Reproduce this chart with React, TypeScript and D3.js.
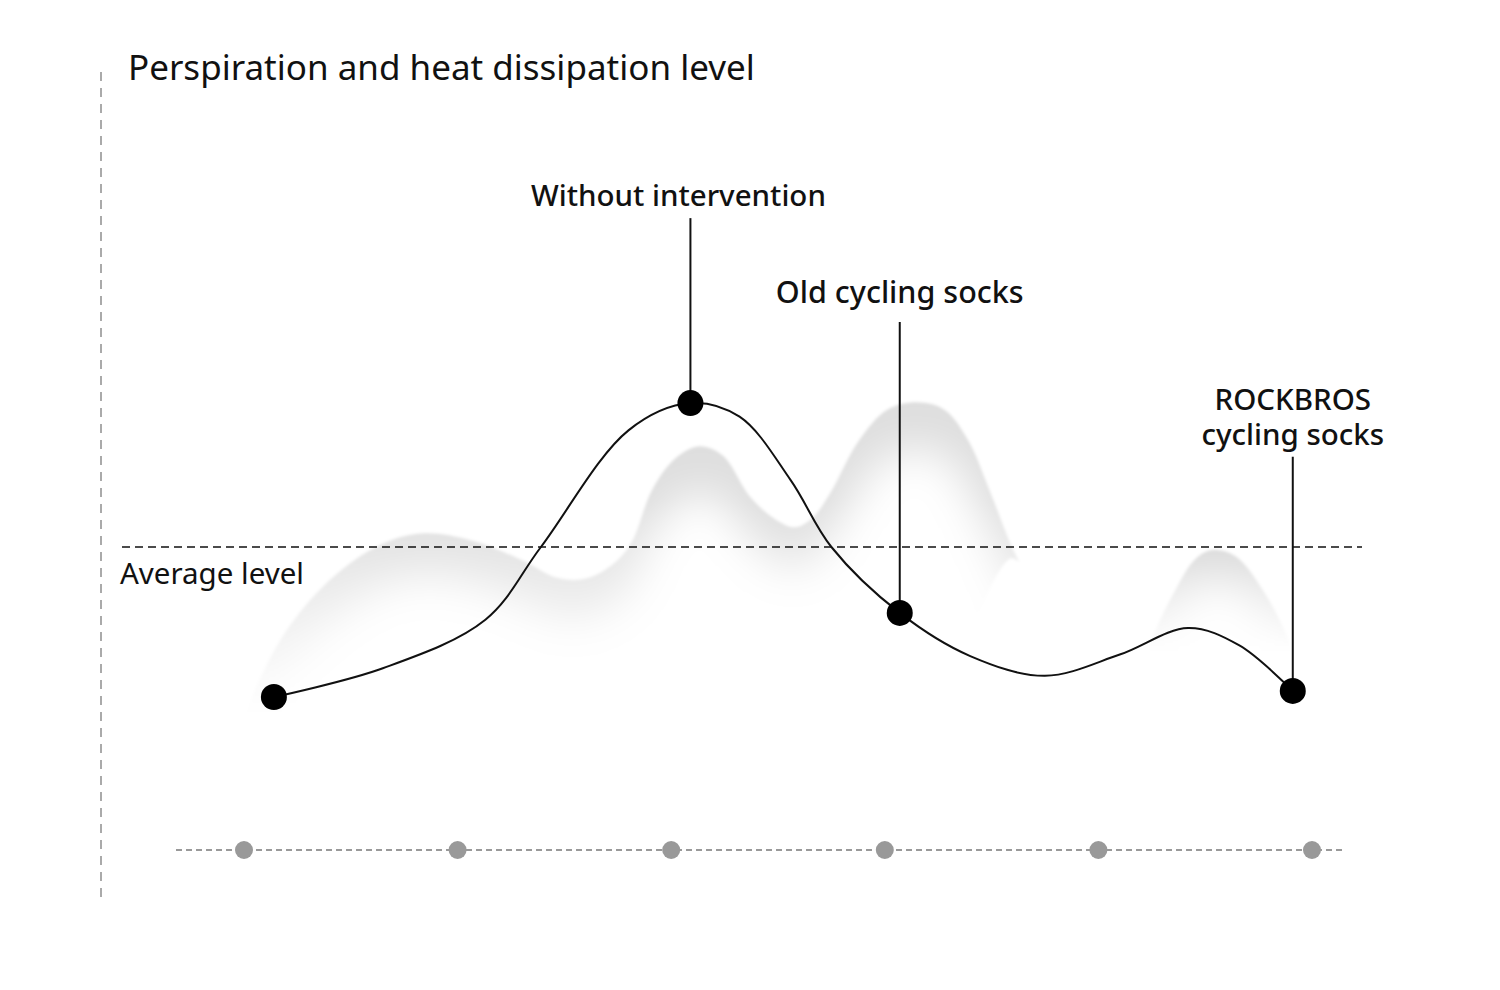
import React from 'react'
import * as d3 from 'd3'

// x: stage index (0..5), y: perspiration / heat level (0..10)
const stageTicks = [0, 1, 2, 3, 4, 5]
const averageLevel = 4

const curveX = [0.14, 0.65, 1.13, 1.39, 1.80, 2.09, 2.32, 2.56, 2.75, 3.07, 3.40, 3.75, 4.10, 4.42, 4.66, 4.91]
const curveY = [2.02, 2.40, 3.04, 4.00, 5.54, 5.90, 5.72, 4.88, 4.00, 3.13, 2.56, 2.30, 2.58, 2.93, 2.70, 2.10]

const markerNames = ['', 'Without intervention', 'Old cycling socks', 'ROCKBROS\ncycling socks']
const markerX = [0.14, 2.09, 3.07, 4.91]
const markerY = [2.02, 5.90, 3.13, 2.10]
const labelY = [0, 8.5, 7.22, 5.35]

// soft grey hills behind the curve: [x, top level, bottom level]
const ridgeMain = [[-0.06, 1.2, 1.2], [0.005, 1.78, 1.2], [0.17, 2.77, 1.2], [0.40, 3.56, 1.2], [0.64, 4.03, 1.2], [0.84, 4.18, 1.2],
  [1.06, 4.09, 1.2], [1.30, 3.83, 1.2], [1.47, 3.59, 1.2], [1.61, 3.59, 1.2], [1.75, 3.83, 1.2], [1.82, 4.09, 1.2],
  [1.91, 4.75, 1.2], [2.02, 5.17, 1.2], [2.13, 5.33, 1.2], [2.24, 5.21, 1.2], [2.37, 4.66, 1.2], [2.49, 4.36, 1.2],
  [2.58, 4.26, 1.2], [2.66, 4.38, 1.2], [2.74, 4.69, 1.2], [2.88, 5.41, 1.2], [3.01, 5.81, 1.2], [3.15, 5.91, 1.3],
  [3.28, 5.81, 1.8], [3.39, 5.41, 2.7], [3.49, 4.75, 3.45], [3.59, 4.03, 3.85], [3.63, 3.80, 3.80]]
const ridgeRight = [[4.20, 2.3, 2.3], [4.26, 2.84, 2.3], [4.36, 3.43, 2.3], [4.45, 3.83, 2.3], [4.53, 3.96, 2.3],
  [4.64, 3.88, 2.3], [4.77, 3.43, 2.3], [4.89, 2.77, 2.3], [4.94, 2.3, 2.3]]
const ridges = [ridgeMain, ridgeRight]
const fadeTop = [4.6, 3.9]
const fadeBottom = [1.75, 2.6]
const fadeDepth = [46, 36]

const W = 1500
const H = 990

const App = () => {
  const x = d3.scaleLinear().domain([0, 5]).range([244, 1312])
  const y = d3.scaleLinear().domain([0, 10]).range([850, 92.5])

  const line = d3.line<number>()
    .x((_, i) => x(curveX[i]))
    .y((d) => y(d))
    .curve(d3.curveCatmullRom.alpha(0.5))

  const font = '"Noto Sans", "Open Sans", sans-serif'
  const leaderGap = [0, 12, 19, 12]

  const areas = ridges.map((r) =>
    d3.area<number[]>()
      .x((d) => x(d[0]))
      .y0((d) => y(d[2]))
      .y1((d) => y(d[1]))
      .curve(d3.curveCatmullRom.alpha(0.5))(r) || ''
  )
  // same ridges reaching down to the bottom, used to fade the hills below their crest
  const covers = ridges.map((r) =>
    d3.area<number[]>()
      .x((d) => x(d[0]))
      .y0(y(-1))
      .y1((d) => y(d[1]))
      .curve(d3.curveCatmullRom.alpha(0.5))(r) || ''
  )

  return (
    <svg width={W} height={H} style={{ display: 'block', margin: -8 }}>
      <defs>
        <filter id="fade" x="-20%" y="-50%" width="140%" height="200%">
          <feGaussianBlur stdDeviation="22" />
        </filter>
        <filter id="edge" x="-5%" y="-5%" width="110%" height="110%">
          <feGaussianBlur stdDeviation="1.5" />
        </filter>
        {areas.map((a, i) => (
          <linearGradient key={i} id={`maskGrad${i}`} gradientUnits="userSpaceOnUse" x1={0} x2={0}
            y1={y(fadeTop[i])} y2={y(fadeBottom[i])}>
            <stop offset="0" stopColor="#fff" />
            <stop offset="1" stopColor="#000" />
          </linearGradient>
        ))}
        {areas.map((a, i) => (
          <mask key={i} id={`hillMask${i}`} maskUnits="userSpaceOnUse" x={0} y={0} width={W} height={H}>
            <path d={a} fill={`url(#maskGrad${i})`} filter="url(#edge)" />
            <path d={covers[i]} fill="#000" filter="url(#fade)" transform={`translate(0,${fadeDepth[i]})`} />
          </mask>
        ))}
      </defs>
      <rect width={W} height={H} fill="#fff" />

      {/* vertical axis */}
      <line x1={101} x2={101} y1={72} y2={900} stroke="#aaa" strokeWidth={2} strokeDasharray="9 7" />
      <text x={128} y={80} fontFamily={font} fontSize={35} fill="#111">Perspiration and heat dissipation level</text>

      {/* hills */}
      {areas.map((a, i) => (
        <rect key={i} width={W} height={H} fill="#dedede" mask={`url(#hillMask${i})`} />
      ))}

      {/* average line */}
      <line x1={122} x2={1362} y1={y(averageLevel)} y2={y(averageLevel)} stroke="#111" strokeWidth={1.5} strokeDasharray="8 5" />
      <text x={120} y={y(averageLevel) + 37} fontFamily={font} fontSize={29.5} fill="#111">Average level</text>

      {/* bottom axis */}
      <line x1={176} x2={1346} y1={y(0)} y2={y(0)} stroke="#999" strokeWidth={2} strokeDasharray="6 4" />
      {stageTicks.map((t) => (
        <circle key={t} cx={x(t)} cy={y(0)} r={9} fill="#999" />
      ))}

      {/* curve */}
      <path d={line(curveY) || ''} fill="none" stroke="#111" strokeWidth={2} />

      {/* markers and labels */}
      {markerX.map((mx, i) => {
        const lines = markerNames[i].split('\n')
        const ly = y(labelY[i])
        const lx = x(mx) + (i === 1 ? -12 : 0)
        return (
          <g key={i}>
            {markerNames[i] && (
              <line x1={x(mx)} x2={x(mx)} y1={ly + leaderGap[i]} y2={y(markerY[i])} stroke="#111" strokeWidth={2} />
            )}
            <circle cx={x(mx)} cy={y(markerY[i])} r={13} fill="#000" />
            {markerNames[i] && (
              <text textAnchor="middle" fontFamily={font} fontSize={i === 2 ? 30.5 : 29.5} fontWeight={500} fill="#111">
                {lines.map((s, j) => (
                  <tspan key={j} x={lx} y={ly - (lines.length - 1 - j) * 35}>{s}</tspan>
                ))}
              </text>
            )}
          </g>
        )
      })}
    </svg>
  )
}

export default App
